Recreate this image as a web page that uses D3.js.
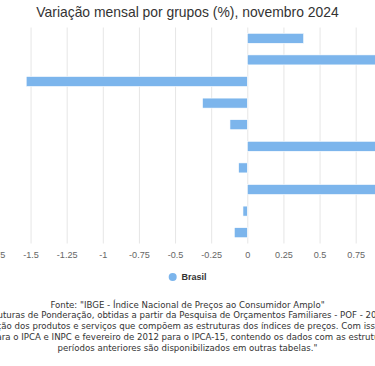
<!DOCTYPE html>
<html>
<head>
<meta charset="utf-8">
<script src="https://cdn.jsdelivr.net/npm/d3@7"></script>
<style>
  html, body { margin: 0; padding: 0; background: #fff; overflow: hidden; }
  svg { display: block; font-family: "Liberation Sans", Arial, sans-serif; }
</style>
</head>
<body>
<svg id="chart" width="375" height="366"></svg>
<script>
const title = "Variação mensal por grupos (%), novembro 2024";
const categories = [
  "Índice geral",
  "1.Alimentação e bebidas",
  "2.Habitação",
  "3.Artigos de residência",
  "4.Vestuário",
  "5.Transportes",
  "6.Saúde e cuidados pessoais",
  "7.Despesas pessoais",
  "8.Educação",
  "9.Comunicação"
];
const seriesName = "Brasil";
const values = [0.39, 1.55, -1.53, -0.31, -0.12, 0.89, -0.06, 1.35, -0.03, -0.09];
const tickValues = [-1.75, -1.5, -1.25, -1, -0.75, -0.5, -0.25, 0, 0.25, 0.5, 0.75];
const tickLabels = ["-1.75", "-1.5", "-1.25", "-1", "-0.75", "-0.5", "-0.25", "0", "0.25", "0.5", "0.75"];
const footerLines = [
  'Fonte: "IBGE - Índice Nacional de Preços ao Consumidor Amplo"',
  'passaram a vigorar as novas estruturas de Ponderação, obtidas a partir da Pesquisa de Orçamentos Familiares - POF - 2017-2018. Ocorreram mudanças',
  'na classificação dos produtos e serviços que compõem as estruturas dos índices de preços. Com isso, foram criadas',
  'novas tabelas a partir de janeiro de 2020 para o IPCA e INPC e fevereiro de 2012 para o IPCA-15, contendo os dados com as estruturas atualizadas. Os dados referentes aos',
  'períodos anteriores são disponibilizados em outras tabelas."'
];

const W = 375, H = 366, cx = W / 2;
const svg = d3.select("#chart");

// plot area (wider than the visible window, cropped like the reference)
const plotTop = 27.5, plotBottom = 243.5;
const zeroX = 247.3, unit = 144.5;
const x = d3.scaleLinear()
  .domain([-1.75, 1.75])
  .range([zeroX - 1.75 * unit, zeroX + 1.75 * unit]);
const y = d3.scaleBand()
  .domain(categories)
  .range([plotTop, plotBottom])
  .paddingInner(0.537)
  .paddingOuter(0.537 / 2);

// title
svg.append("text")
  .attr("x", cx).attr("y", 17)
  .attr("text-anchor", "middle")
  .attr("fill", "#333333")
  .style("font-size", "13.9px")
  .text(title);

// gridlines + tick labels via axis
const axis = d3.axisBottom(x)
  .tickValues(tickValues)
  .tickFormat((d, i) => tickLabels[i])
  .tickSize(-(plotBottom - plotTop))
  .tickPadding(6);
const gAxis = svg.append("g")
  .attr("transform", `translate(0,${plotBottom})`)
  .call(axis);
gAxis.select(".domain").remove();
gAxis.selectAll(".tick line").attr("stroke", "#e6e6e6").attr("stroke-width", 1);
gAxis.selectAll(".tick text")
  .attr("fill", "#666666")
  .attr("y", 14)
  .attr("dy", 0)
  .style("font-size", "9.1px")
  .style("font-family", '"Liberation Sans", Arial, sans-serif');

// bars
svg.append("g").selectAll("rect")
  .data(values)
  .join("rect")
  .attr("x", d => x(Math.min(0, d)))
  .attr("width", d => Math.abs(x(d) - x(0)))
  .attr("y", (d, i) => y(categories[i]))
  .attr("height", y.bandwidth())
  .attr("fill", "#7cb5ec")
  .attr("stroke", "#ffffff")
  .attr("stroke-width", 0.6);

// legend
const gLeg = svg.append("g");
gLeg.append("circle")
  .attr("cx", 172.7).attr("cy", 277).attr("r", 4)
  .attr("fill", "#7cb5ec");
gLeg.append("text")
  .attr("x", 181.5).attr("y", 280.3)
  .attr("fill", "#333333")
  .style("font-size", "9px")
  .style("font-weight", "bold")
  .text(seriesName);

// footer caption (long lines overflow the visible window on both sides)
const lineNudge = [0, -5, 7, -5, 0];
svg.append("g").selectAll("text")
  .data(footerLines)
  .join("text")
  .attr("x", (d, i) => cx + lineNudge[i])
  .attr("y", (d, i) => 307.5 + i * 10.9)
  .attr("text-anchor", "middle")
  .attr("fill", "#333333")
  .style("font-family", '"DejaVu Sans", sans-serif')
  .style("font-size", "8.6px")
  .text(d => d);
</script>
</body>
</html>
